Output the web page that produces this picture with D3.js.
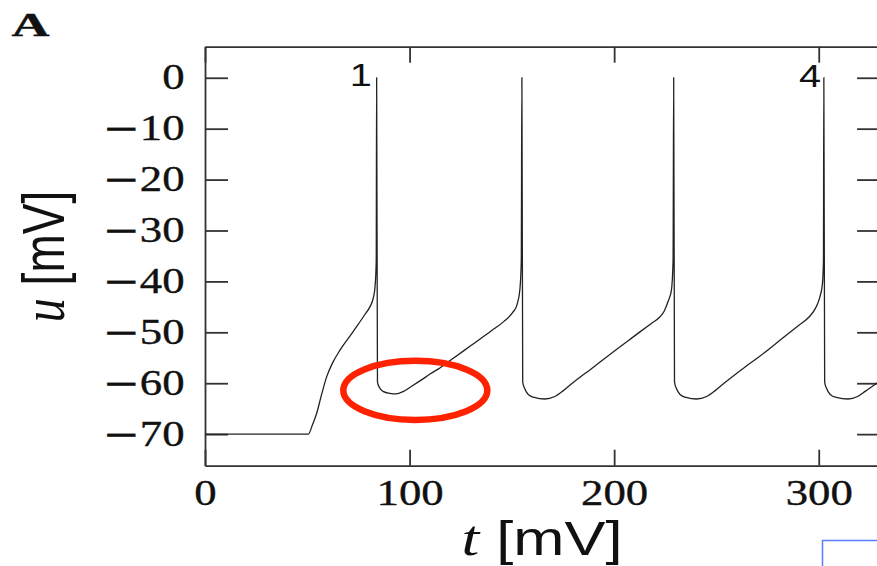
<!DOCTYPE html>
<html lang="en">
<head>
<meta charset="UTF-8">
<title>Membrane potential trace</title>
<script src="https://cdnjs.cloudflare.com/ajax/libs/d3/7.8.5/d3.min.js"></script>
<style>
    body { margin: 0; background: #fff; overflow: hidden; }
    svg { display: block; }
    .trace { fill: none; stroke: #222; stroke-width: 1.3; }
    .axis path, .axis line { stroke-width: 1.8; }
    .axis text { font-family: "Liberation Serif", serif; font-size: 35px; fill: #111; stroke: #111; stroke-width: 0.35; }
    .axis text .neg { font-family: "DejaVu Serif", serif; }
</style>
</head>
<body>
<div id="chart"></div>
<script>
    // time (ms) and potential (mV)
    const tVals = [0, 50.5, 52.5, 54.6, 57, 59.5, 62.5, 66, 70, 74.1, 78, 80.6, 82.3, 83.1, 83.7, 83.9, 84.3,
        85.2, 87, 90.4, 93.5, 97, 101, 106, 110, 114.8, 120, 130, 140, 146, 150.6, 152.5, 153.9, 154.6, 154.9, 155.3,
        156.2, 158, 161, 166, 171, 175, 178.3, 190, 200, 210, 218, 222.3, 224.5, 226.3, 228, 228.8, 229.1, 229.5,
        230.4, 232.2, 235.2, 240.2, 245.2, 249.2, 252.5, 264, 270.2, 280, 290, 295.5, 298.5, 300.4, 301.8, 302.3, 302.5, 302.9,
        303.8, 305.6, 308.6, 314.3, 319, 323, 328.3, 335];
    const uVals = [-70, -70, -68.2, -65.9, -62.2, -58.7, -55.9, -53.5, -51.2, -48.9, -46.6, -45.0, -43.2, -41.1, -36, 0, -59.8,
        -60.8, -61.6, -62.0, -62.1, -61.6, -60.6, -59.3, -58.2, -57.0, -55.5, -52.6, -49.7, -47.9, -46.0, -44.6, -41.7, -36, 0, -59.8,
        -61.0, -62.2, -62.8, -63.1, -62.6, -61.5, -60.4, -56.8, -53.7, -50.7, -48.3, -47.0, -45.8, -44.0, -41.7, -36, 0, -59.8,
        -61.0, -62.2, -62.8, -63.1, -62.6, -61.5, -60.4, -56.8, -55.0, -51.9, -48.7, -46.9, -45.2, -43.3, -40.5, -36, 0, -59.8,
        -61.0, -62.2, -62.8, -63.1, -62.6, -61.5, -60.0, -57.9];

    const xTicks = [0, 100, 200, 300];
    const yTicks = [0, -10, -20, -30, -40, -50, -60, -70];

    const spikeLabels = ["1", "4"];
    const spikeLabelT = [81.6, 301.1];
    const spikeLabelU = [-1.7, -1.9];

    // red highlight ellipse around the first trough (centre and half-widths in data units)
    const markT = 102.8, markU = -61.4, markDT = 35.2, markDU = 5.8;

    const width = 877, height = 566;
    const sx = 1.28; // the original figure is stretched sideways

    const x = d3.scaleLinear().domain([0, 330]).range([205, 880.1]);
    const y = d3.scaleLinear().domain([-76.2, 6.1]).range([465.7, 46.7]);

    const svg = d3.select('#chart').append('svg')
        .attr('width', width)
        .attr('height', height);

    // frame + ticks
    const left = svg.append('g').attr('class', 'axis').attr('color', '#333')
        .attr('transform', `translate(${x(0)},0)`)
        .call(d3.axisLeft(y).tickValues(yTicks).tickSizeInner(-23).tickSizeOuter(0).tickPadding(16));
    // long math minus in its own tspan
    left.selectAll('text')
        .attr('transform', `scale(${sx},1)`)
        .text(null)
        .each(function(d) {
            const t = d3.select(this);
            if (d < 0) t.append('tspan').attr('class', 'neg').text('\u2212');
            t.append('tspan').text(Math.abs(d));
        });

    const bottom = svg.append('g').attr('class', 'axis').attr('color', '#333')
        .attr('transform', `translate(0,${y.range()[0]})`)
        .call(d3.axisBottom(x).tickValues(xTicks).tickSizeInner(-16).tickSizeOuter(0).tickPadding(14));
    bottom.selectAll('text').attr('transform', `scale(${sx},1)`);

    svg.append('g').attr('class', 'axis').attr('color', '#333')
        .attr('transform', `translate(0,${y.range()[1]})`)
        .call(d3.axisTop(x).tickValues(xTicks).tickSizeInner(-16).tickSizeOuter(0).tickFormat(''));

    svg.append('g').attr('class', 'axis').attr('color', '#333')
        .attr('transform', `translate(${x.range()[1]},0)`)
        .call(d3.axisRight(y).tickValues(yTicks).tickSizeInner(-23).tickSizeOuter(0).tickFormat(''));

    // trace
    const pts = tVals.map((t, i) => [t, uVals[i]]);
    const line = d3.line()
        .x(d => x(d[0]))
        .y(d => y(d[1]))
        .curve(d3.curveMonotoneX);

    svg.append('path')
        .datum(pts)
        .attr('class', 'trace')
        .attr('d', line);

    // spike numbers
    svg.selectAll('.spike-label')
        .data(spikeLabels)
        .enter()
        .append('text')
        .attr('class', 'spike-label')
        .attr('transform', (d, i) => `translate(${x(spikeLabelT[i])},${y(spikeLabelU[i])}) scale(${sx},1)`)
        .attr('text-anchor', 'end')
        .style('font-family', '"Liberation Sans", Arial, sans-serif')
        .style('font-size', '31px')
        .style('fill', '#111')
        .text(d => d);

    // red ellipse
    svg.append('ellipse')
        .attr('cx', x(markT))
        .attr('cy', y(markU))
        .attr('rx', x(markT + markDT) - x(markT))
        .attr('ry', y(markU - markDU) - y(markU))
        .attr('fill', 'none')
        .attr('stroke', '#ff2200')
        .attr('stroke-width', 6.5);

    // panel letter
    svg.append('text')
        .attr('transform', 'translate(11.5,36) scale(1.55,1)')
        .style('font-family', '"Liberation Serif", serif')
        .style('font-weight', 'bold')
        .style('font-size', '34px')
        .style('fill', '#111')
        .style('stroke', '#111')
        .style('stroke-width', 0.4)
        .text('A');

    // y label
    const yl = svg.append('text')
        .attr('transform', `translate(64,256.5) scale(${sx},1) rotate(-90)`)
        .attr('text-anchor', 'middle')
        .style('fill', '#111');
    yl.append('tspan')
        .style('font-family', '"Liberation Serif", serif')
        .style('font-style', 'italic')
        .style('font-size', '48px')
        .text('u');
    yl.append('tspan')
        .style('font-family', '"Liberation Sans", Arial, sans-serif')
        .style('font-size', '46px')
        .text(' [mV]');

    // x label
    const xl = svg.append('text')
        .attr('transform', `translate(542,554.5) scale(${sx},1)`)
        .attr('text-anchor', 'middle')
        .style('fill', '#111');
    xl.append('tspan')
        .style('font-family', '"Liberation Serif", serif')
        .style('font-style', 'italic')
        .style('font-size', '50px')
        .text('t');
    xl.append('tspan')
        .style('font-family', '"Liberation Sans", Arial, sans-serif')
        .style('font-size', '48px')
        .text(' [mV]');

    // stray selection box at the bottom right of the screenshot
    svg.append('rect')
        .attr('x', 822.5)
        .attr('y', 540.5)
        .attr('width', 120)
        .attr('height', 60)
        .attr('fill', 'none')
        .attr('stroke', '#5a7cff')
        .attr('stroke-width', 1.5);
</script>
</body>
</html>
